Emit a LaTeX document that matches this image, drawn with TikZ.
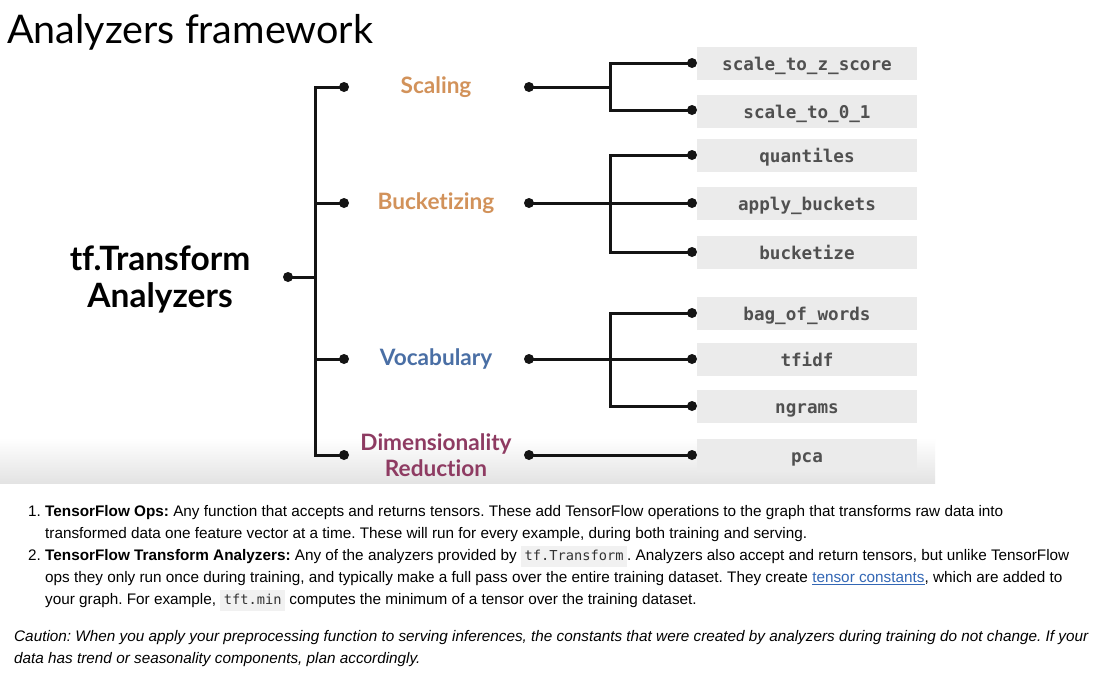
\documentclass[tikz,border=0pt]{standalone}
\usepackage{fontspec}
\setmainfont{Liberation Sans}
\newfontfamily\lato[Ligatures=NoCommon]{Lato}
\newfontfamily\monof{DejaVu Sans Mono}
\usetikzlibrary{calc}
\definecolor{orng}{HTML}{D2925A}
\definecolor{vblue}{HTML}{4A6FA5}
\definecolor{dimred}{HTML}{8E3B62}
\definecolor{boxgray}{HTML}{EBEBEB}
\definecolor{leaftxt}{HTML}{505050}
\definecolor{codebg}{HTML}{F1F1F1}
\definecolor{codetxt}{HTML}{333333}
\definecolor{linkc}{HTML}{3367B5}
\newcommand\codespan[1]{{\setlength\fboxsep{3.5pt}\colorbox{codebg}{\vphantom{Ty}\textcolor{codetxt}{\monof\fontsize{13.7}{16}\selectfont #1}}}}
\frenchspacing
\begin{document}
\begin{tikzpicture}[x=1pt,y=-1pt,
  wire/.style={line width=3pt,black!92,line join=miter},
  dot/.style={circle,fill=black!92,inner sep=0pt,minimum size=10pt},
  leafbox/.style={fill=boxgray,draw=none,minimum width=220pt,minimum height=33pt,inner sep=0pt},
  leaftext/.style={anchor=base,inner sep=0pt,text=leaftxt,font=\monof\bfseries\fontsize{17.6}{20}\selectfont},
  cat/.style={inner sep=0pt,align=center,font=\lato\bfseries\fontsize{22.6}{26.5}\selectfont},
  txt/.style={anchor=base west,inner sep=0pt,font=\fontsize{15.3}{18}\selectfont},
  ctxt/.style={anchor=base west,inner sep=0pt,font=\itshape\fontsize{15.3}{18}\selectfont}]
\useasboundingbox (0,0) rectangle (1101,683);
\fill[white] (0,0) rectangle (1101,683);
% bottom fade of the slide
\shade[top color=white,bottom color=black!11] (0,438) rectangle (935,483);

% title
\node[anchor=base west,inner sep=0pt,font=\lato\fontsize{39.5}{44}\selectfont] (title) at (7,43) {Analyzers framework};

% root label
\node[inner sep=0pt,align=center,font=\lato\bfseries\fontsize{33.5}{37}\selectfont] (root) at (160,279) {tf.Transform\\Analyzers};

% dots
\node[dot] (r) at (288,277) {};
\coordinate (tx) at (315,0);
\coordinate (jx) at (610,0);
\node[dot] (L1) at (344,87) {};
\node[dot] (L2) at (344,203) {};
\node[dot] (L3) at (344,359) {};
\node[dot] (L4) at (344,455) {};
\node[dot] (M1) at (529,87) {};
\node[dot] (M2) at (529,203) {};
\node[dot] (M3) at (529,359) {};
\node[dot] (M4) at (529,455) {};

% categories
\node[cat,text=orng] (scal) at (436,87) {Scaling};
\node[cat,text=orng] (buck) at (436,203) {Bucketizing};
\node[cat,text=vblue] (voc) at (436,359) {Vocabulary};
\node[cat,text=dimred] (dimr) at (436,455) {Dimensionality\\Reduction};

% leaf boxes
\foreach \n/\y/\t in {1/63.5/scale\_to\_z\_score,2/111/scale\_to\_0\_1,3/155/quantiles,4/203/apply\_buckets,5/252/bucketize,6/313.5/bag\_of\_words,7/359/tfidf,8/406.5/ngrams,9/455.5/pca}{
  \node[leafbox] (B\n) at (807,\y) {};
  \node[leaftext] (T\n) at ($(B\n.center)+(0,7)$) {\t};
}
\foreach \n/\y in {1/63,2/110,3/155,4/203,5/252,6/313,7/359,8/406,9/455}{
  \node[dot] (D\n) at (692,\y) {};
}

% trunk
\draw[wire] (r.center) -- (r.center -| tx);
\draw[wire] (L1.center) -| (L4.center -| tx) -- (L4.center);
\draw[wire] (L2.center -| tx) -- (L2.center);
\draw[wire] (L3.center -| tx) -- (L3.center);

% scaling
\draw[wire] (M1.center) -- (M1.center -| jx);
\draw[wire] (D1.center) -| (D2.center -| jx) -- (D2.center);
% bucketizing
\draw[wire] (M2.center) -- (D4.center);
\draw[wire] (D3.center) -| (D5.center -| jx) -- (D5.center);
% vocabulary
\draw[wire] (M3.center) -- (D7.center);
\draw[wire] (D6.center) -| (D8.center -| jx) -- (D8.center);
% dim reduction
\draw[wire] (M4.center) -- (D9.center);

% text below
\node[txt] (n1) at (28,516) {1.};
\node[txt] (l1) at (45,516) {\textbf{TensorFlow Ops:} Any function that accepts and returns tensors. These add TensorFlow operations to the graph that transforms raw data into};
\node[txt] (l2) at (45,538) {transformed data one feature vector at a time. These will run for every example, during both training and serving.};
\node[txt] (n2) at (28,560.5) {2.};
\node[txt] (l3) at (45,560.5) {\textbf{TensorFlow Transform Analyzers:} Any of the analyzers provided by \codespan{tf.Transform}. Analyzers also accept and return tensors, but unlike TensorFlow};
\node[txt] (l4) at (45,582.5) {ops they only run once during training, and typically make a full pass over the entire training dataset. They create \textcolor{linkc}{\underline{tensor constants}}, which are added to};
\node[txt] (l5) at (45,604.5) {your graph. For example, \codespan{tft.min} computes the minimum of a tensor over the training dataset.};
\node[ctxt] (c1) at (14,641) {Caution: When you apply your preprocessing function to serving inferences, the constants that were created by analyzers during training do not change. If your};
\node[ctxt] (c2) at (14,663) {data has trend or seasonality components, plan accordingly.};
\end{tikzpicture}
\end{document}
